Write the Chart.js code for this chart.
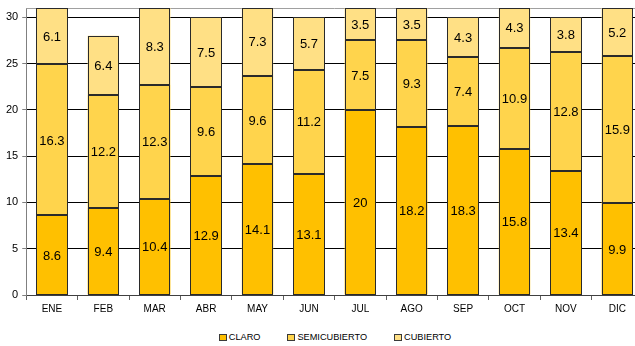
<!DOCTYPE html>
<html>
<head>
<meta charset="utf-8">
<script src="https://cdn.jsdelivr.net/npm/chart.js@4"></script>
<style>
  html, body { margin: 0; padding: 0; background: #fff; overflow: hidden; }
  #wrap { width: 645px; height: 318px; }
  #leyenda {
    position: absolute; top: 332px; left: 5px; width: 660px;
    display: flex; justify-content: center; gap: 27px;
    font: 9.2px 'Liberation Sans', Arial, sans-serif; color: #000;
  }
  #leyenda span { display: inline-flex; align-items: center; }
  #leyenda i {
    display: inline-block; width: 6px; height: 5px; margin-right: 2px;
    border: 1px solid #3a3a3a;
  }
</style>
</head>
<body>
<div id="wrap"><canvas id="chart"></canvas></div>
<div id="leyenda"></div>
<script>
// meses
const meses = ['ENE', 'FEB', 'MAR', 'ABR', 'MAY', 'JUN', 'JUL', 'AGO', 'SEP', 'OCT', 'NOV', 'DIC'];

// días por tipo de cielo
const claro        = [8.6, 9.4, 10.4, 12.9, 14.1, 13.1, 20, 18.2, 18.3, 15.8, 13.4, 9.9];
const semicubierto = [16.3, 12.2, 12.3, 9.6, 9.6, 11.2, 7.5, 9.3, 7.4, 10.9, 12.8, 15.9];
const cubierto     = [6.1, 6.4, 8.3, 7.5, 7.3, 5.7, 3.5, 3.5, 4.3, 4.3, 3.8, 5.2];

const series  = ['CLARO', 'SEMICUBIERTO', 'CUBIERTO'];
const colores = ['#ffc000', '#ffd44c', '#ffe085'];

const yMax = 31;
const yStep = 5;

const fuente = "'Liberation Sans', Arial, sans-serif";
const borde = '#2a2a2a';

// contorno nítido de cada tramo (ajustado al píxel)
const contornos = {
    id: 'contornos',
    afterDatasetsDraw(chart) {
        const ctx = chart.ctx;
        const area = chart.chartArea;
        ctx.save();
        ctx.strokeStyle = borde;
        ctx.lineWidth = 1;
        chart.data.datasets.forEach((ds, i) => {
            chart.getDatasetMeta(i).data.forEach(bar => {
                const l = Math.round(bar.x - bar.width / 2) + 0.5;
                const r = Math.round(bar.x + bar.width / 2) - 0.5;
                const t = Math.round(Math.max(bar.y, area.top)) + 0.5;
                const b = Math.round(bar.base) - 0.5;
                ctx.strokeRect(l, t, r - l, b - t);
            });
        });
        ctx.restore();
    }
};

// etiquetas con el valor en el centro de cada tramo
const etiquetas = {
    id: 'etiquetas',
    afterDatasetsDraw(chart) {
        const ctx = chart.ctx;
        ctx.save();
        ctx.font = '13px ' + fuente;
        ctx.fillStyle = '#000';
        ctx.textAlign = 'center';
        ctx.textBaseline = 'middle';
        const area = chart.chartArea;
        chart.data.datasets.forEach((ds, i) => {
            chart.getDatasetMeta(i).data.forEach((bar, j) => {
                const top = Math.max(bar.y, area.top);
                const y = (top + bar.base) / 2;
                ctx.fillText(String(ds.data[j]), bar.x, y + 1);
            });
        });
        ctx.restore();
    }
};

// línea superior del área de trazado
const bordeSuperior = {
    id: 'bordeSuperior',
    beforeDatasetsDraw(chart) {
        const ctx = chart.ctx;
        const a = chart.chartArea;
        ctx.save();
        ctx.strokeStyle = '#a0a0a0';
        ctx.lineWidth = 1;
        ctx.beginPath();
        ctx.moveTo(a.left, a.top + 0.5);
        ctx.lineTo(a.right, a.top + 0.5);
        ctx.stroke();
        ctx.restore();
    }
};

const datos = [claro, semicubierto, cubierto];

new Chart(document.getElementById('chart'), {
    type: 'bar',
    data: {
        labels: meses,
        datasets: series.map((nombre, i) => ({
            label: nombre,
            data: datos[i],
            backgroundColor: colores[i],
            borderWidth: 0
        }))
    },
    options: {
        responsive: true,
        maintainAspectRatio: false,
        animation: false,
        devicePixelRatio: 1,
        datasets: {
            bar: { categoryPercentage: 1, barPercentage: 0.61 }
        },
        layout: { padding: { top: 8, right: 2, left: 2, bottom: 0 } },
        scales: {
            x: {
                stacked: true,
                border: { color: '#404040' },
                grid: { display: true, drawOnChartArea: false, offset: true, tickLength: 5, color: '#606060' },
                ticks: { color: '#000', font: { family: fuente, size: 10 }, padding: 3 }
            },
            y: {
                stacked: true,
                min: 0,
                max: yMax,
                border: { color: '#808080' },
                grid: { color: '#000', tickColor: '#808080', tickLength: 4 },
                ticks: {
                    stepSize: yStep,
                    includeBounds: false,
                    color: '#000',
                    padding: 4,
                    font: { family: fuente, size: 11 }
                },
                afterFit(scale) {
                    scale.paddingTop = 0;
                }
            }
        },
        plugins: {
            legend: { display: false },
            tooltip: { enabled: false }
        }
    },
    plugins: [bordeSuperior, contornos, etiquetas]
});

// leyenda
const leyenda = document.getElementById('leyenda');
series.forEach((nombre, i) => {
    const item = document.createElement('span');
    const caja = document.createElement('i');
    caja.style.background = colores[i];
    item.appendChild(caja);
    item.appendChild(document.createTextNode(nombre));
    leyenda.appendChild(item);
});
</script>
</body>
</html>
